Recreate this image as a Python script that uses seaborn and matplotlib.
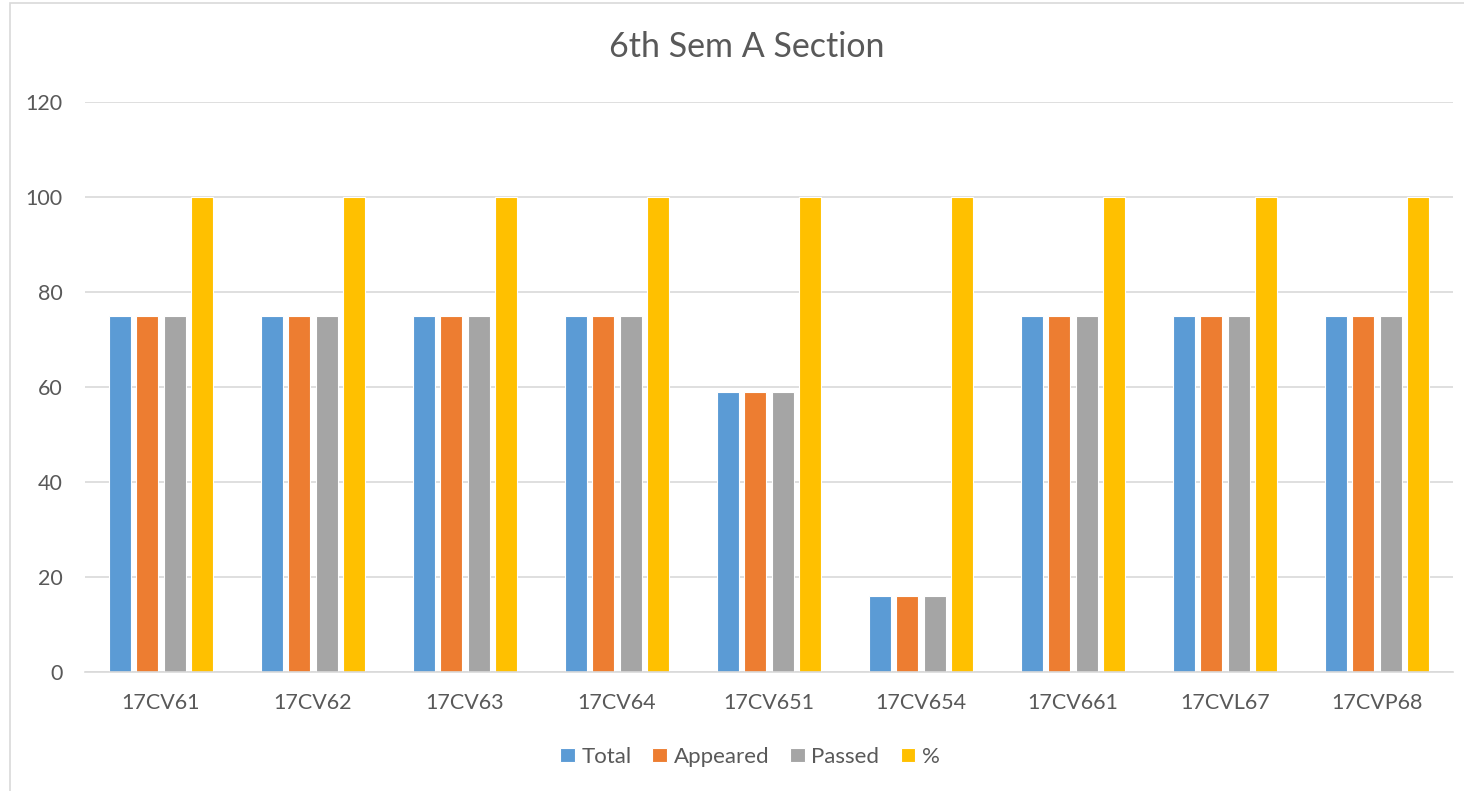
import matplotlib
matplotlib.use("Agg")
import matplotlib.pyplot as plt
import seaborn as sns
import pandas as pd
from matplotlib.patches import Rectangle

# chart data
subjects = ["17CV61", "17CV62", "17CV63", "17CV64", "17CV651",
            "17CV654", "17CV661", "17CVL67", "17CVP68"]
total = [75, 75, 75, 75, 59, 16, 75, 75, 75]
appeared = [75, 75, 75, 75, 59, 16, 75, 75, 75]
passed = [75, 75, 75, 75, 59, 16, 75, 75, 75]
percent = [100, 100, 100, 100, 100, 100, 100, 100, 100]

series = ["Total", "Appeared", "Passed", "%"]
colors = ["#5B9BD5", "#ED7D31", "#A5A5A5", "#FFC000"]

df = pd.DataFrame({"Subject": subjects, "Total": total, "Appeared": appeared,
                   "Passed": passed, "%": percent})
long_df = df.melt(id_vars="Subject", value_vars=series,
                  var_name="Series", value_name="Value")

sns.set_theme(style="white")
plt.rcParams["font.family"] = ["Lato", "DejaVu Sans"]
text_color = "#595959"

fig = plt.figure(figsize=(14.64, 7.91), dpi=100)
ax = fig.add_axes([0.058, 0.150, 0.9345, 0.721])

sns.barplot(data=long_df, x="Subject", y="Value", hue="Series",
            hue_order=series, palette=colors, saturation=1,
            width=0.724, gap=0.2, edgecolor="white", linewidth=0.8, ax=ax)

ax.set_ylim(0, 120)
ax.set_xlim(-0.5, len(subjects) - 0.5)
ax.set_yticks(range(0, 121, 20))
ax.yaxis.grid(True, color="#D9D9D9", linewidth=1.2)
ax.set_axisbelow(True)
for s in ["top", "right", "left"]:
    ax.spines[s].set_visible(False)
ax.spines["bottom"].set_color("#D9D9D9")
ax.spines["bottom"].set_linewidth(1.2)
ax.set_xlabel("")
ax.set_ylabel("")
ax.tick_params(axis="x", length=0, labelsize=15.5, colors=text_color, pad=15)
ax.tick_params(axis="y", length=0, labelsize=15.5, colors=text_color, pad=16)

fig.text(0.510, 0.94, "6th Sem A Section", ha="center", va="center",
         fontsize=24.5, color=text_color)

ax.legend(loc="center", bbox_to_anchor=(0.486, -0.148), ncol=4, frameon=False,
          fontsize=16, labelcolor=text_color, handlelength=0.65,
          handleheight=0.65, handletextpad=0.3, columnspacing=0.95)

# outer chart border
fig.patches.append(Rectangle((0.007, -0.01), 1.1, 1.006, transform=fig.transFigure,
                             fill=False, edgecolor="#D9D9D9", linewidth=1.2))

fig.savefig("out.png", dpi=100)
